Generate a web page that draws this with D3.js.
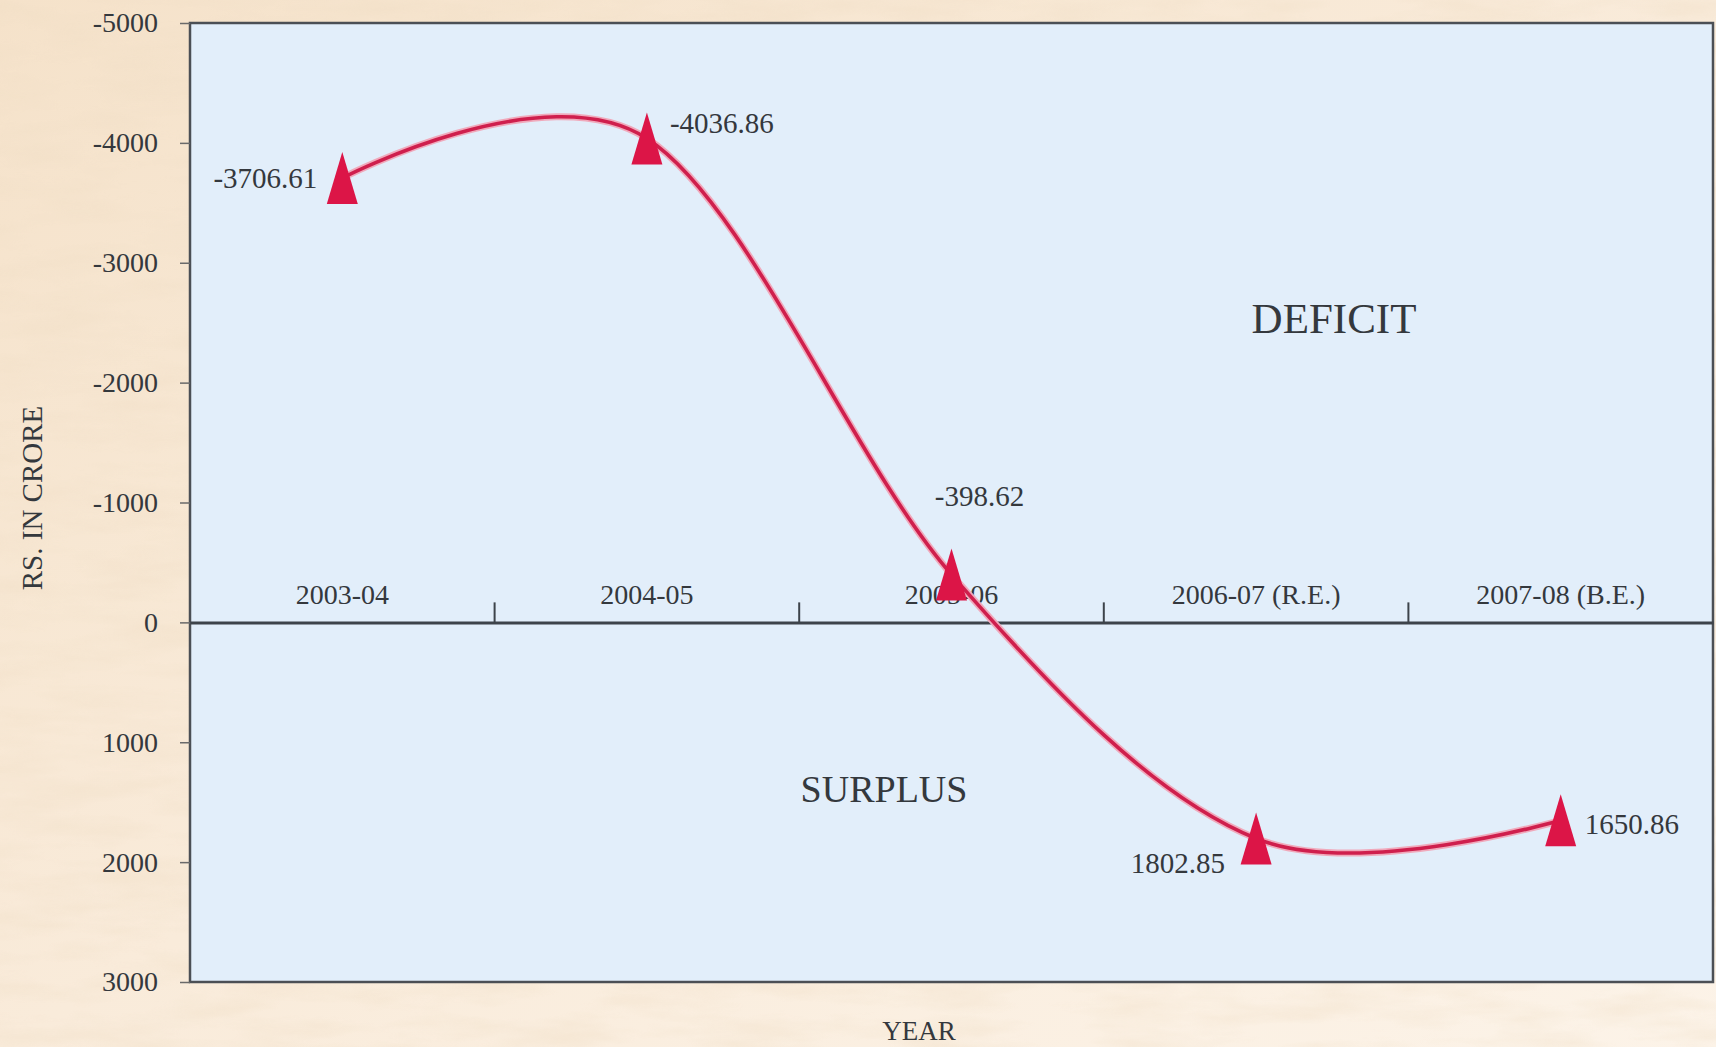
<!DOCTYPE html>
<html>
<head>
<meta charset="utf-8">
<script src="https://cdn.jsdelivr.net/npm/d3@7"></script>
<style>
  html, body { margin: 0; padding: 0; background: #f8e9d6; }
  svg { display: block; }
  text { font-family: "Liberation Serif", "Times New Roman", serif; fill: #34383d; }
</style>
</head>
<body>
<svg id="chart" width="1716" height="1047"></svg>
<script>
// Revenue balance of the state, Rs. in crore (negative = deficit)
const years = ["2003-04", "2004-05", "2005-06", "2006-07 (R.E.)", "2007-08 (B.E.)"];
const balance = [-3706.61, -4036.86, -398.62, 1802.85, 1650.86];
const balanceLabels = ["-3706.61", "-4036.86", "-398.62", "1802.85", "1650.86"];
const yTicks = [-5000, -4000, -3000, -2000, -1000, 0, 1000, 2000, 3000];
const yDomain = [-5000, 3000];

// label placement around each marker: [dx, dy, anchor]
const labelPlacement = [
  [-25, 10, "end"],
  [23, -5, "start"],
  [28, -69, "middle"],
  [-31, 35, "end"],
  [24, 14, "start"]
];

const W = 1716, H = 1047;
const plot = { left: 190, right: 1713, top: 23, bottom: 982 };

const svg = d3.select("#chart");
const defs = svg.append("defs");

// warm paper background
const grad = defs.append("linearGradient").attr("id", "paper")
  .attr("x1", "0").attr("y1", "0").attr("x2", "1").attr("y2", "1");
grad.append("stop").attr("offset", "0").attr("stop-color", "#f5e2ca");
grad.append("stop").attr("offset", "0.5").attr("stop-color", "#f9ebda");
grad.append("stop").attr("offset", "1").attr("stop-color", "#fcf3e8");

const tex = defs.append("filter").attr("id", "grain")
  .attr("x", 0).attr("y", 0).attr("width", "100%").attr("height", "100%");
tex.append("feTurbulence").attr("type", "fractalNoise")
  .attr("baseFrequency", "0.01 0.045").attr("numOctaves", 4).attr("seed", 7).attr("result", "n");
tex.append("feColorMatrix").attr("type", "matrix")
  .attr("values", "0 0 0 0 0.86  0 0 0 0 0.72  0 0 0 0 0.55  0 0 0 -1.6 1.0");

svg.append("rect").attr("width", W).attr("height", H).attr("fill", "url(#paper)");
svg.append("rect").attr("width", W).attr("height", H).attr("filter", "url(#grain)").attr("opacity", 0.45);

// scales
const x = d3.scaleBand().domain(years).range([plot.left, plot.right]).padding(0);
const y = d3.scaleLinear().domain(yDomain).range([plot.top, plot.bottom]);
const cx = d => x(d) + x.bandwidth() / 2;

// plot area
svg.append("rect")
  .attr("x", plot.left).attr("y", plot.top)
  .attr("width", plot.right - plot.left).attr("height", plot.bottom - plot.top)
  .attr("fill", "#e2eefa")
  .attr("stroke", "#4b4f55").attr("stroke-width", 2.5);

// value axis
const yAxis = svg.append("g")
  .attr("transform", `translate(${plot.left},0)`)
  .call(d3.axisLeft(y).tickValues(yTicks).tickFormat(d => String(d)).tickSize(10).tickPadding(22));
yAxis.select(".domain").remove();
yAxis.selectAll(".tick line").attr("stroke", "#6a6a6a").attr("stroke-width", 1.5);
yAxis.selectAll(".tick text")
  .style("font-family", "'Liberation Serif', serif")
  .attr("font-size", 28).attr("fill", "#34383d");

// zero line with year labels
const y0 = y(0);
const xAxis = svg.append("g")
  .attr("transform", `translate(0,${y0})`)
  .call(d3.axisTop(x).tickSize(0).tickPadding(18));
xAxis.select(".domain").attr("stroke", "#3d434a").attr("stroke-width", 3);
xAxis.selectAll(".tick text")
  .style("font-family", "'Liberation Serif', serif")
  .attr("font-size", 28).attr("fill", "#34383d").attr("dy", 0);

// separators between years
svg.append("g").selectAll("line")
  .data(years.slice(1))
  .join("line")
  .attr("x1", d => x(d)).attr("x2", d => x(d))
  .attr("y1", y0 - 20).attr("y2", y0)
  .attr("stroke", "#3d434a").attr("stroke-width", 2);

// region captions
svg.append("text").attr("x", 1334).attr("y", 333)
  .attr("text-anchor", "middle").attr("font-size", 43).text("DEFICIT");
svg.append("text").attr("x", 884).attr("y", 802)
  .attr("text-anchor", "middle").attr("font-size", 38).text("SURPLUS");

// axis titles
svg.append("text")
  .attr("transform", `translate(42,498) rotate(-90)`)
  .attr("text-anchor", "middle").attr("font-size", 29).text("RS. IN CRORE");
svg.append("text").attr("x", 919).attr("y", 1040)
  .attr("text-anchor", "middle").attr("font-size", 27).text("YEAR");

// smoothed balance line
const pts = years.map((yr, i) => ({ yr, v: balance[i], i }));
const line = d3.line().x(d => cx(d.yr)).y(d => y(d.v)).curve(d3.curveCardinal.tension(0));
svg.append("path").datum(pts).attr("d", line)
  .attr("fill", "none").attr("stroke", "#f0a9bb").attr("stroke-width", 7);
svg.append("path").datum(pts).attr("d", line)
  .attr("fill", "none").attr("stroke", "#cf1f4d").attr("stroke-width", 3.6);

// triangle markers
const tw = 31, th = 52;
svg.append("g").selectAll("path")
  .data(pts)
  .join("path")
  .attr("transform", d => `translate(${cx(d.yr)},${y(d.v)})`)
  .attr("d", `M0,${-th / 2}L${tw / 2},${th / 2}L${-tw / 2},${th / 2}Z`)
  .attr("fill", "#dc1547");

// value labels
svg.append("g").selectAll("text")
  .data(pts)
  .join("text")
  .attr("x", d => cx(d.yr) + labelPlacement[d.i][0])
  .attr("y", d => y(d.v) + labelPlacement[d.i][1])
  .attr("text-anchor", d => labelPlacement[d.i][2])
  .attr("font-size", 29)
  .text(d => balanceLabels[d.i]);
</script>
</body>
</html>
